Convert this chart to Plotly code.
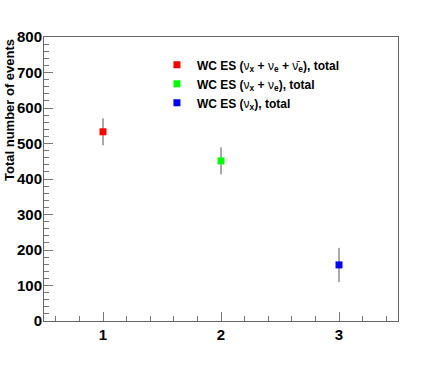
import plotly.graph_objects as go

x_vals = [1, 2, 3]
y_vals = [533, 451, 158]
y_err = [38, 38, 48]
names = [
    "WC ES (<span style='font-weight:normal'>ν</span><sub>x</sub> + <span style='font-weight:normal'>ν</span><sub>e</sub> + <span style='font-weight:normal'>ν̄</span><sub>e</sub>), total",
    "WC ES (<span style='font-weight:normal'>ν</span><sub>x</sub> + <span style='font-weight:normal'>ν</span><sub>e</sub>), total",
    "WC ES (<span style='font-weight:normal'>ν</span><sub>x</sub>), total",
]
colors = ["#ff0000", "#00ff00", "#0000ff"]
y_title = "Total number of events"

FONT = "Liberation Sans, Arial, sans-serif"

fig = go.Figure()
for xi, yi, ei, nm, c in zip(x_vals, y_vals, y_err, names, colors):
    fig.add_trace(go.Scatter(
        x=[xi], y=[yi], mode="markers", name=nm,
        marker=dict(symbol="square", size=7, color=c),
        error_y=dict(type="data", array=[ei], color="#555555", thickness=1, width=0),
    ))

axis_common = dict(
    showline=True, linecolor="#666666", linewidth=1, mirror=True,
    ticks="inside", tickcolor="#777777", showgrid=False, zeroline=False,
    automargin=False,
    tickfont=dict(family=FONT, size=15, color="black", weight="bold"),
)

fig.update_layout(
    width=442, height=374,
    margin=dict(l=44, r=44, t=37, b=53),
    paper_bgcolor="white", plot_bgcolor="white",
    font=dict(family=FONT, color="black"),
    xaxis=dict(range=[0.5, 3.5], tickvals=[1, 2, 3], ticklen=9,
               minor=dict(dtick=0.2, tick0=0, ticks="inside", ticklen=5, tickcolor="#777777"),
               **axis_common),
    yaxis=dict(range=[0, 800], dtick=100, ticklen=9, ticklabelstandoff=-2,
               minor=dict(dtick=20, ticks="inside", ticklen=5, tickcolor="#777777"),
               **axis_common),
    showlegend=True,
    legend=dict(x=0.319, y=0.953, xanchor="left", yanchor="top",
                bgcolor="rgba(0,0,0,0)", tracegroupgap=0,
                font=dict(family=FONT, size=12, color="black", weight="bold")),
)

fig.add_annotation(
    text=y_title, xref="paper", yref="paper", x=-0.0989, y=1.0,
    xanchor="center", yanchor="top", textangle=-90, showarrow=False,
    font=dict(family=FONT, size=13, color="black", weight="bold"),
)

fig.write_html("out.html", config={"displayModeBar": False},
               post_script="document.body.style.margin='0';document.body.style.padding='0';")
